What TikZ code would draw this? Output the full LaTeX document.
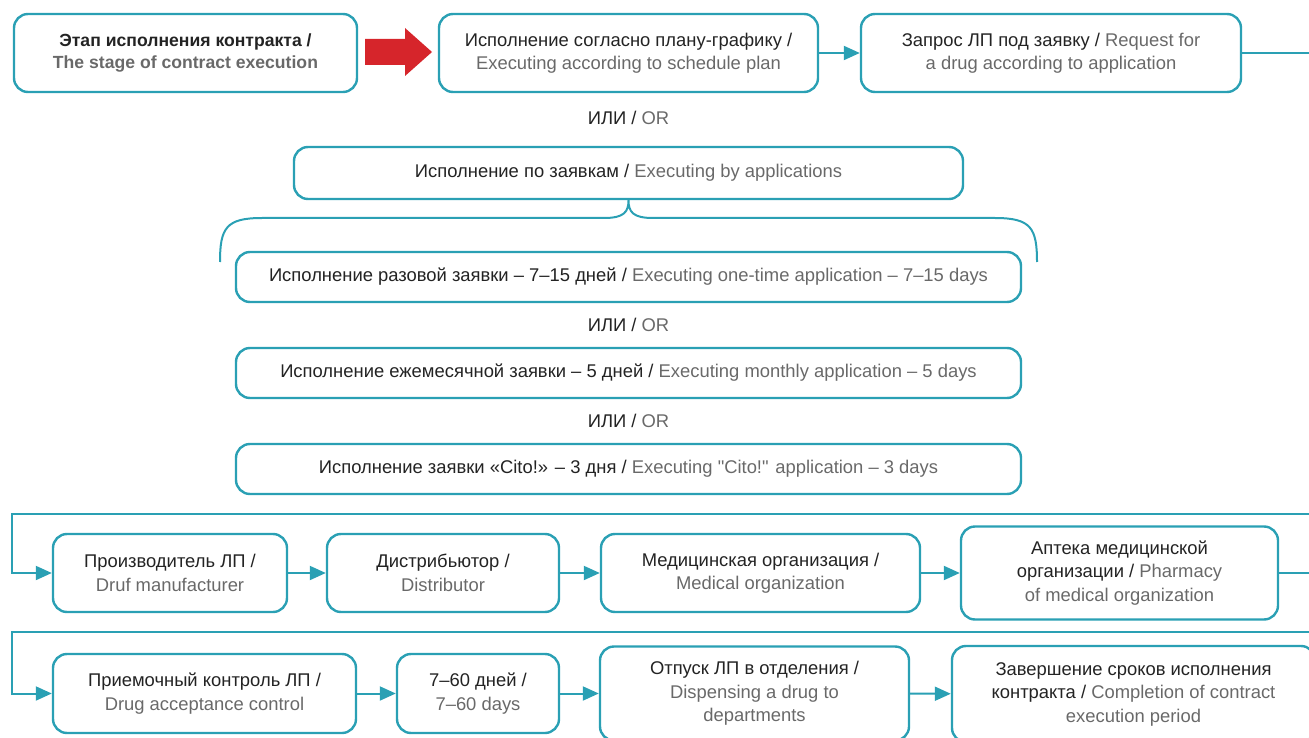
\documentclass[tikz,border=0pt]{standalone}
\usepackage{fontspec}
\setmainfont{Liberation Sans}
\usepackage{xcolor}
\usepackage{tikz}
\usetikzlibrary{calc}
\usetikzlibrary{arrows.meta}
\definecolor{boxteal}{RGB}{42,160,180}
\definecolor{txtdark}{RGB}{35,35,35}
\definecolor{txtgrey}{RGB}{105,105,105}
\definecolor{arrred}{RGB}{214,37,43}
\newcommand{\rutxt}[1]{{\color{txtdark}#1}}
\newcommand{\entxt}[1]{{\color{txtgrey}#1}}
\newcommand{\dquote}{\XeTeXglyph\XeTeXglyphindex "quotedbl"\relax}
\tikzstyle{box} = [draw=boxteal, line width=2.4pt, rounded corners=14pt,
	align=center, inner sep=0pt, font=\fontsize{18.4}{23.5}\selectfont]
\tikzstyle{arrow} = [draw=boxteal, line width=2pt, -{Triangle[length=16pt,width=14pt]}]
\tikzstyle{link} = [draw=boxteal, line width=2pt]
\tikzstyle{ortext} = [font=\fontsize{18.4}{23.5}\selectfont]

\begin{document}
\begin{tikzpicture}[x=1pt, y=-1pt]
	\useasboundingbox (0,0) rectangle (1309,738);
	\clip (0,0) rectangle (1309,738);

	% contract stage
	\node[box, minimum width=343, minimum height=78, font=\fontsize{17.6}{22}\selectfont\bfseries] (stage) at (185.5,53)
		{\rutxt{Этап исполнения контракта /}\\ \entxt{The stage of contract execution}};
	\fill[arrred] (365,39) -- (405,39) -- (405,28) -- (432,52) -- (405,76) -- (405,65) -- (365,65) -- cycle;
	\node[box, minimum width=379, minimum height=78] (plan) at (628.5,53)
		{\rutxt{Исполнение согласно плану-графику /}\\ \entxt{Executing according to schedule plan}};
	\node[box, minimum width=380, minimum height=78] (request) at (1051,53)
		{\rutxt{Запрос ЛП под заявку /} \entxt{Request for}\\ \entxt{a drug according to application}};
	\coordinate (r1end) at (1309,53);
	\draw[arrow] (plan) -- (request);
	\draw[link] (request) -- (r1end);

	\node[ortext] (or1) at (628.5,118) {\rutxt{ИЛИ /} \entxt{OR}};
	\node[box, minimum width=669, minimum height=52] (byapp) at (628.5,173)
		{\rutxt{Исполнение по заявкам /} \entxt{Executing by applications}};

	% brace
	\coordinate (brL) at (220,262);
	\coordinate (brR) at (1037,262);
	\draw[link] (brL) .. controls (220,228) and (226,218) .. (262,218) -- (604,218)
		.. controls (624,218) and (628.5,212) .. (byapp.south)
		.. controls (628.5,212) and (633,218) .. (653,218) -- (995,218)
		.. controls (1031,218) and (1037,228) .. (brR);

	\node[box, fill=white, minimum width=785, minimum height=50] (once) at (628.5,277)
		{\rutxt{Исполнение разовой заявки – 7–15 дней /} \entxt{Executing one-time application – 7–15 days}};
	\node[ortext] (or2) at (628.5,325) {\rutxt{ИЛИ /} \entxt{OR}};
	\node[box, minimum width=785, minimum height=50] (monthly) at (628.5,373)
		{\rutxt{Исполнение ежемесячной заявки – 5 дней /} \entxt{Executing monthly application – 5 days}};
	\node[ortext] (or3) at (628.5,421) {\rutxt{ИЛИ /} \entxt{OR}};
	\node[box, minimum width=785, minimum height=50] (cito) at (628.5,469)
		{\rutxt{Исполнение заявки «Cito!» – 3 дня /} \entxt{Executing \dquote Cito!\dquote{} application – 3 days}};

	% second row
	\node[box, minimum width=234, minimum height=78] (maker) at (170,573)
		{\rutxt{Производитель ЛП /}\\ \entxt{Druf manufacturer}};
	\node[box, minimum width=232, minimum height=78] (distr) at (443,573)
		{\rutxt{Дистрибьютор /}\\ \entxt{Distributor}};
	\node[box, minimum width=319, minimum height=78] (medorg) at (760.5,573)
		{\rutxt{Медицинская организация /}\\ \entxt{Medical organization}};
	\node[box, minimum width=317, minimum height=93] (pharm) at (1119.5,573)
		{\rutxt{Аптека медицинской}\\ \rutxt{организации /} \entxt{Pharmacy}\\ \entxt{of medical organization}};
	\coordinate (r2in) at (1309,514);
	\coordinate (r2turn) at (12,514);
	\coordinate (r2end) at (1309,573);
	\draw[arrow] (r2in) -- (r2turn) |- (maker.west);
	\draw[arrow] (maker) -- (distr);
	\draw[arrow] (distr) -- (medorg);
	\draw[arrow] (medorg) -- (pharm);
	\draw[link] (pharm) -- (r2end);

	% third row
	\node[box, minimum width=303, minimum height=79] (accept) at (204.5,693.5)
		{\rutxt{Приемочный контроль ЛП /}\\ \entxt{Drug acceptance control}};
	\node[box, minimum width=162, minimum height=79] (days) at (478,693.5)
		{\rutxt{7–60 дней /}\\ \entxt{7–60 days}};
	\node[box, minimum width=309, minimum height=94] (dispense) at (754.5,693.5)
		{\rutxt{Отпуск ЛП в отделения /}\\ \entxt{Dispensing a drug to}\\ \entxt{departments}};
	\node[box, minimum width=363, minimum height=96] (finish) at (1133.5,694)
		{\rutxt{Завершение сроков исполнения}\\ \rutxt{контракта /} \entxt{Completion of contract}\\ \entxt{execution period}};
	\coordinate (r3in) at (1309,632);
	\coordinate (r3turn) at (12,632);
	\draw[arrow] (r3in) -- (r3turn) |- (accept.west);
	\draw[arrow] (accept) -- (days);
	\draw[arrow] (days) -- (dispense);
	\draw[arrow] (dispense) -- (finish);
\end{tikzpicture}
\end{document}
